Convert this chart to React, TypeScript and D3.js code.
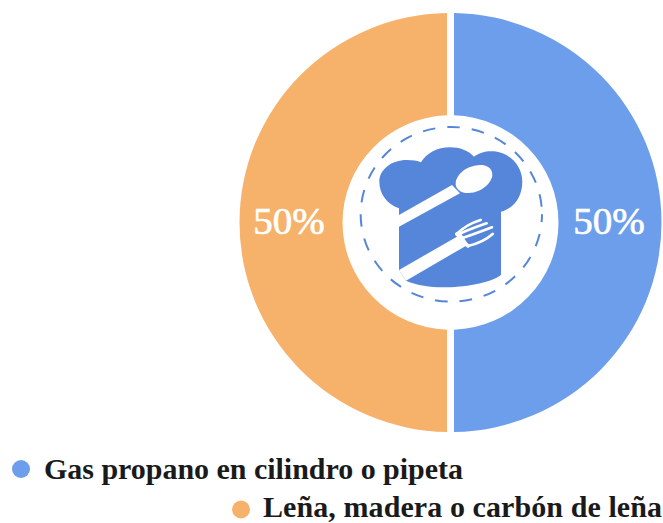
import React from "react";
import * as d3 from "d3";

const categories = ["Gas propano en cilindro o pipeta", "Leña, madera o carbón de leña"];
const shares = [50, 50];
const sliceColors = ["#6d9eeb", "#f6b26b"];
const hatColor = "#5586da";

const WIDTH = 663;
const HEIGHT = 523;
const CX = 450.5;
const CY = 222.5;
const OUTER = 211;
const INNER = 108;
const GAP = 7;

const pie = d3.pie<number>().sort(null).value((d) => d);
const arc = d3
  .arc<d3.PieArcDatum<number>>()
  .innerRadius(INNER)
  .outerRadius(OUTER)
  .padRadius(OUTER)
  .padAngle(GAP / OUTER);

const labelRadius = 160;
const legendRows = [
  { dotX: 21, dotY: 469, textX: 44, width: 419, y: 478.5 },
  { dotX: 241, dotY: 509.5, textX: 263, width: 399, y: 516.5 },
];

// Chef hat with crossed spoon and fork, drawn on a 3x grid inside the hole
function ChefBadge() {
  return (
    <g transform="translate(330 110) scale(0.3333)">
      <ellipse cx="364" cy="313" rx="272" ry="262" fill="none" stroke={hatColor} strokeWidth="6" strokeDasharray="38 36" strokeDashoffset="14" />
      <path
        fill={hatColor}
        d="M207 295 C170 282 148 250 148 215 C148 178 186 150 230 150 C248 150 263 152 273 157 C290 130 322 112 360 112 C390 112 415 122 432 140 C447 128 470 122 492 124 C540 128 577 168 577 215 C577 260 552 295 513 305 L513 495 C480 520 400 532 340 532 C300 532 262 526 228 512 L207 480 Z"
      />
      <path fill="#fff" d="M207 315 L366 225 L390 250 L207 350 Z" />
      <ellipse cx="432" cy="207" rx="58" ry="38" transform="rotate(-25 432 207)" fill="#fff" />
      <path fill="#fff" d="M207 480 L395 372 L414 404 L228 512 Z" />
      <g stroke="#fff" strokeWidth="8" strokeLinecap="round" fill="none">
        <path d="M380 372 C400 352 425 338 452 330" />
        <path d="M382 374 C410 362 440 350 470 340" />
        <path d="M395 385 C425 375 460 362 486 352" />
        <path d="M414 408 C440 402 470 388 488 372" />
        <path d="M380 372 L414 408" strokeWidth="10" />
      </g>
    </g>
  );
}

export default function App() {
  const slices = pie(shares);
  return (
    <svg
      width={WIDTH}
      height={HEIGHT}
      viewBox={`0 0 ${WIDTH} ${HEIGHT}`}
      style={{ position: "absolute", left: 0, top: 0, background: "#fff" }}
    >
      <g transform={`translate(${CX} ${CY}) scale(1 0.993)`}>
        {slices.map((s, i) => {
          const a = (s.startAngle + s.endAngle) / 2 - Math.PI / 2;
          return (
            <g key={categories[i]}>
              <path d={arc(s) ?? ""} fill={sliceColors[i]} />
              <text
                x={Math.cos(a) * labelRadius - 1.5}
                y={Math.sin(a) * labelRadius + 12}
                textAnchor="middle"
                fill="#fff"
                stroke="#fff"
                strokeWidth="0.7"
                fontFamily="'Liberation Serif', serif"
                fontSize="39"
              >
                {d3.format(".0f")(s.data)}%
              </text>
            </g>
          );
        })}
      </g>
      <ChefBadge />
      {categories.map((c, i) => (
        <g key={c}>
          <circle cx={legendRows[i].dotX} cy={legendRows[i].dotY} r="9" fill={sliceColors[i]} />
          <text
            x={legendRows[i].textX}
            y={legendRows[i].y}
            textLength={legendRows[i].width}
            lengthAdjust="spacing"
            fontFamily="'Liberation Serif', serif"
            fontWeight="700"
            fontSize="30"
            fill="#1a1a1a"
          >
            {c}
          </text>
        </g>
      ))}
    </svg>
  );
}
